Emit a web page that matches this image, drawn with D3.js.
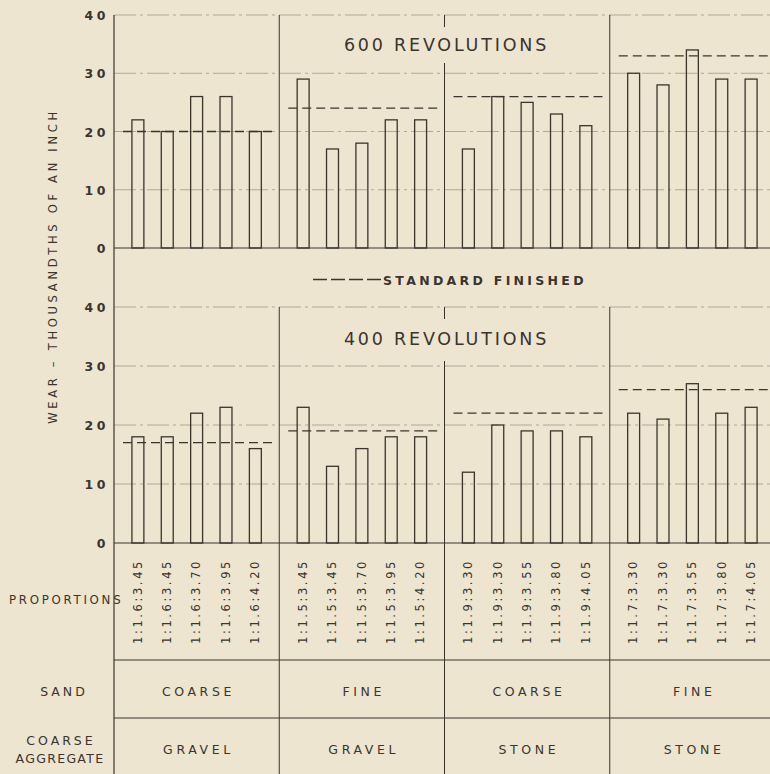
<!DOCTYPE html>
<html>
<head>
<meta charset="utf-8">
<script src="https://cdn.jsdelivr.net/npm/d3@7"></script>
<style>
  html, body { margin: 0; padding: 0; background: #eee5d1; }
  svg { display: block; }
  text { font-family: "DejaVu Sans", sans-serif; fill: #3a342c; }
</style>
</head>
<body>
<script>
// ---------- data ----------
const groups = ["G1", "G2", "G3", "G4"];
const sandLabels = ["COARSE", "FINE", "COARSE", "FINE"];
const aggregateLabels = ["GRAVEL", "GRAVEL", "STONE", "STONE"];
const proportions = [
  "1:1.6:3.45", "1:1.6:3.45", "1:1.6:3.70", "1:1.6:3.95", "1:1.6:4.20",
  "1:1.5:3.45", "1:1.5:3.45", "1:1.5:3.70", "1:1.5:3.95", "1:1.5:4.20",
  "1:1.9:3.30", "1:1.9:3.30", "1:1.9:3.55", "1:1.9:3.80", "1:1.9:4.05",
  "1:1.7:3.30", "1:1.7:3.30", "1:1.7:3.55", "1:1.7:3.80", "1:1.7:4.05"
];
const wear600 = [22, 20, 26, 26, 20, 29, 17, 18, 22, 22, 17, 26, 25, 23, 21, 30, 28, 34, 29, 29];
const wear400 = [18, 18, 22, 23, 16, 23, 13, 16, 18, 18, 12, 20, 19, 19, 18, 22, 21, 27, 22, 23];
const standard600 = [20, 24, 26, 33];
const standard400 = [17, 19, 22, 26];
const yTicks = [0, 10, 20, 30, 40];
const gridTicks = [10, 20, 30, 40];
const panelTitles = ["600 REVOLUTIONS", "400 REVOLUTIONS"];

// ---------- layout ----------
const W = 770, H = 774;
const ink = "#3a342c";
const svg = d3.select("body").append("svg").attr("width", W).attr("height", H);
svg.append("rect").attr("width", W).attr("height", H).attr("fill", "#eee5d1");

const x0 = d3.scaleBand().domain(d3.range(groups.length)).range([114, 775]).padding(0);
const x1 = d3.scaleBand().domain(d3.range(5)).range([0, x0.bandwidth()])
  .paddingInner(0.593).paddingOuter(0.61);
const barX = i => x0(Math.floor(i / 5)) + x1(i % 5);
const barC = i => barX(i) + x1.bandwidth() / 2;

const panels = [
  { y: d3.scaleLinear().domain([0, 40]).range([248, 15]), data: wear600, std: standard600, title: panelTitles[0], titleY: 51, divTop: 63 },
  { y: d3.scaleLinear().domain([0, 40]).range([543, 307]), data: wear400, std: standard400, title: panelTitles[1], titleY: 345, divTop: 361 }
];

panels.forEach(p => {
  const g = svg.append("g");
  const y = p.y;
  // grid lines
  g.selectAll("line.grid").data(gridTicks).join("line")
    .attr("x1", 114).attr("x2", W)
    .attr("y1", d => y(d)).attr("y2", d => y(d))
    .attr("stroke", "#6e665a").attr("stroke-width", 0.8)
    .attr("stroke-dasharray", "22,4,3,4").attr("opacity", 0.6);
  // baseline
  g.append("line").attr("x1", 114).attr("x2", W).attr("y1", y(0)).attr("y2", y(0))
    .attr("stroke", ink).attr("stroke-width", 1.2);
  // group dividers
  [1, 3].forEach(k => {
    g.append("line").attr("x1", x0(k)).attr("x2", x0(k)).attr("y1", y(40)).attr("y2", y(0))
      .attr("stroke", ink).attr("stroke-width", 1);
  });
  g.append("line").attr("x1", x0(2)).attr("x2", x0(2)).attr("y1", y(40)).attr("y2", y(40) + 12)
    .attr("stroke", ink).attr("stroke-width", 1);
  g.append("line").attr("x1", x0(2)).attr("x2", x0(2)).attr("y1", p.divTop).attr("y2", y(0))
    .attr("stroke", ink).attr("stroke-width", 1);
  // title
  g.append("text").attr("x", x0(2) + 2).attr("y", p.titleY)
    .attr("text-anchor", "middle").attr("font-size", 17.5).attr("letter-spacing", 2.8)
    .text(p.title);
  // bars
  g.selectAll("rect.bar").data(p.data).join("rect")
    .attr("x", (d, i) => barX(i)).attr("width", x1.bandwidth())
    .attr("y", d => y(d)).attr("height", d => y(0) - y(d))
    .attr("fill", "none").attr("stroke", ink).attr("stroke-width", 1.3);
  // standard finished lines
  g.selectAll("line.std").data(p.std).join("line")
    .attr("x1", (d, k) => x0(k) + 9).attr("x2", (d, k) => x0(k) + x0.bandwidth() - 4)
    .attr("y1", d => y(d)).attr("y2", d => y(d))
    .attr("stroke", ink).attr("stroke-width", 1.3).attr("stroke-dasharray", "9,5");
  // y axis labels
  const ax = g.append("g").attr("transform", "translate(114,0)")
    .call(d3.axisLeft(y).tickValues(yTicks).tickSize(0).tickPadding(5).tickFormat(d3.format("d")));
  ax.select(".domain").remove();
  ax.selectAll("text").attr("font-family", "DejaVu Sans").attr("font-size", 12.5)
    .attr("font-weight", "bold").attr("letter-spacing", 3.5).attr("fill", ink)
    .attr("dy", "0.36em");
});

// left axis line
svg.append("line").attr("x1", 114).attr("x2", 114).attr("y1", 15).attr("y2", H)
  .attr("stroke", ink).attr("stroke-width", 1.2);

// legend
svg.append("line").attr("x1", 313).attr("x2", 383).attr("y1", 279.5).attr("y2", 279.5)
  .attr("stroke", ink).attr("stroke-width", 1.3).attr("stroke-dasharray", "14,4");
svg.append("text").attr("x", 383).attr("y", 284.5).attr("font-size", 12.5)
  .attr("font-weight", 600).attr("letter-spacing", 3.3).text("STANDARD FINISHED");

// y axis title
svg.append("text").attr("transform", "translate(57,266) rotate(-90)")
  .attr("text-anchor", "middle").attr("font-size", 11.5).attr("letter-spacing", 3.7)
  .text("WEAR – THOUSANDTHS OF AN INCH");

// ---------- table ----------
const tbl = svg.append("g");
[660, 718].forEach(yy => {
  tbl.append("line").attr("x1", 114).attr("x2", W).attr("y1", yy).attr("y2", yy)
    .attr("stroke", ink).attr("stroke-width", 1);
});
[1, 2, 3].forEach(k => {
  tbl.append("line").attr("x1", x0(k)).attr("x2", x0(k)).attr("y1", 543).attr("y2", H)
    .attr("stroke", ink).attr("stroke-width", 1);
});
tbl.selectAll("text.prop").data(proportions).join("text")
  .attr("transform", (d, i) => `translate(${barC(i) + 3.8},644) rotate(-90)`)
  .attr("font-size", 11.5).attr("letter-spacing", 2.6).text(d => d);
tbl.selectAll("text.sand").data(sandLabels).join("text")
  .attr("x", (d, k) => x0(k) + x0.bandwidth() / 2 + 1.8).attr("y", 695.5)
  .attr("text-anchor", "middle").attr("font-size", 12.5).attr("letter-spacing", 3.6).text(d => d);
tbl.selectAll("text.agg").data(aggregateLabels).join("text")
  .attr("x", (d, k) => x0(k) + x0.bandwidth() / 2 + 1.8).attr("y", 754)
  .attr("text-anchor", "middle").attr("font-size", 12.5).attr("letter-spacing", 3.6).text(d => d);

// row headers
svg.append("text").attr("x", 9).attr("y", 604).attr("font-size", 11.8).attr("letter-spacing", 2.7).text("PROPORTIONS");
svg.append("text").attr("x", 64).attr("y", 695.5).attr("text-anchor", "middle").attr("font-size", 12.5).attr("letter-spacing", 3).text("SAND");
svg.append("text").attr("x", 61).attr("y", 745).attr("text-anchor", "middle").attr("font-size", 12.5).attr("letter-spacing", 3).text("COARSE");
svg.append("text").attr("x", 60).attr("y", 762.5).attr("text-anchor", "middle").attr("font-size", 12.5).attr("letter-spacing", 1.3).text("AGGREGATE");
</script>
</body>
</html>
